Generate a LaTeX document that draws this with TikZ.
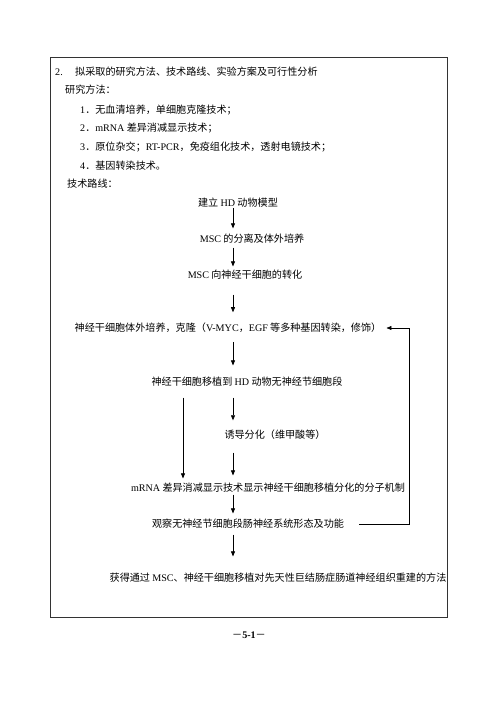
\documentclass[tikz,border=0pt]{standalone}
\usepackage{fontspec}
\setmainfont{Noto Sans CJK SC}
\newfontfamily\en{Liberation Serif}
\newcommand{\enw}[1]{{\en #1}}
\newcommand{\pgdash}{{\rmfamily\mdseries －}}
\usetikzlibrary{arrows.meta}

\begin{document}
\begin{tikzpicture}[
    x=1pt, y=-1pt,
    font=\fontsize{10.1}{12}\selectfont,
    line/.style={inner sep=0pt, anchor=west},
    flow/.style={inner sep=0pt},
    arrow/.style={-{Triangle[length=5pt, width=4pt]}, line width=0.6pt}
]
\useasboundingbox (0,0) rectangle (500,706);
\draw[line width=1pt, black!80] (50,58) rectangle (447,617);

% header and methods
\node[line] (num) at (55,72) {\enw{2.}};
\node[line] (title) at (75,72) {拟采取的研究方法、技术路线、实验方案及可行性分析};
\node[line] (methods) at (65,90) {研究方法：};
\node[line] (m1) at (80,110) {\enw{1}．无血清培养，单细胞克隆技术；};
\node[line] (m2) at (80,128) {\enw{2}．\enw{mRNA} 差异消减显示技术；};
\node[line] (m3) at (80,147) {\enw{3}．原位杂交；\enw{RT-PCR}，免疫组化技术，透射电镜技术；};
\node[line] (m4) at (80,166) {\enw{4}．基因转染技术。};
\node[line] (route) at (67,184) {技术路线：};

% flow chart
\node[flow] (model) at (238,203) {建立 \enw{HD} 动物模型};
\node[flow] (isolate) at (252,239) {\enw{MSC} 的分离及体外培养};
\node[flow] (convert) at (245,275) {\enw{MSC} 向神经干细胞的转化};
\node[flow] (culture) at (228,328) {神经干细胞体外培养，克隆（\enw{V-MYC}，\enw{EGF} 等多种基因转染，修饰）};
\node[flow] (graft) at (247,382) {神经干细胞移植到 \enw{HD} 动物无神经节细胞段};
\node[flow] (induce) at (275,435) {诱导分化（维甲酸等）};
\node[flow] (mrna) at (268,488) {\enw{mRNA} 差异消减显示技术显示神经干细胞移植分化的分子机制};
\node[flow] (observe) at (248,524) {观察无神经节细胞段肠神经系统形态及功能};
\node[flow] (result) at (278,578) {获得通过 \enw{MSC}、神经干细胞移植对先天性巨结肠症肠道神经组织重建的方法};
\coordinate (axis) at (233,0);
\coordinate (side) at (183,0);
\coordinate (back) at (409,524);

\draw[arrow, shorten >=5.7pt] (model.south -| axis) -- (isolate.north -| axis);
\draw[arrow, shorten <=3.7pt, shorten >=3.7pt] (isolate.south -| axis) -- (convert.north -| axis);
\draw[arrow, shorten <=14.7pt, shorten >=10.7pt] (convert.south -| axis) -- (culture.north -| axis);
\draw[arrow, shorten <=8.7pt, shorten >=11.7pt] (culture.south -| axis) -- (graft.north -| axis);
\draw[arrow, shorten <=10.7pt, shorten >=9.7pt] (graft.south -| axis) -- (induce.north -| axis);
\draw[arrow, shorten <=12.7pt, shorten >=7.7pt] (induce.south -| axis) -- (mrna.north -| axis);
\draw[arrow, shorten <=1.7pt, shorten >=5.7pt] (mrna.south -| axis) -- (observe.north -| axis);
\draw[arrow, shorten <=5.7pt, shorten >=16.7pt] (observe.south -| axis) -- (result.north -| axis);
\draw[arrow, shorten <=10.7pt, shorten >=4.7pt] (graft.south -| side) -- (mrna.north -| side);
\draw[arrow, shorten <=15pt, shorten >=5pt] (observe.east) -- (back) |- (culture.east);

\node[font=\en\bfseries\fontsize{10.1}{12}\selectfont] (page) at (249,635) {\pgdash5-1\pgdash};
\end{tikzpicture}
\end{document}
